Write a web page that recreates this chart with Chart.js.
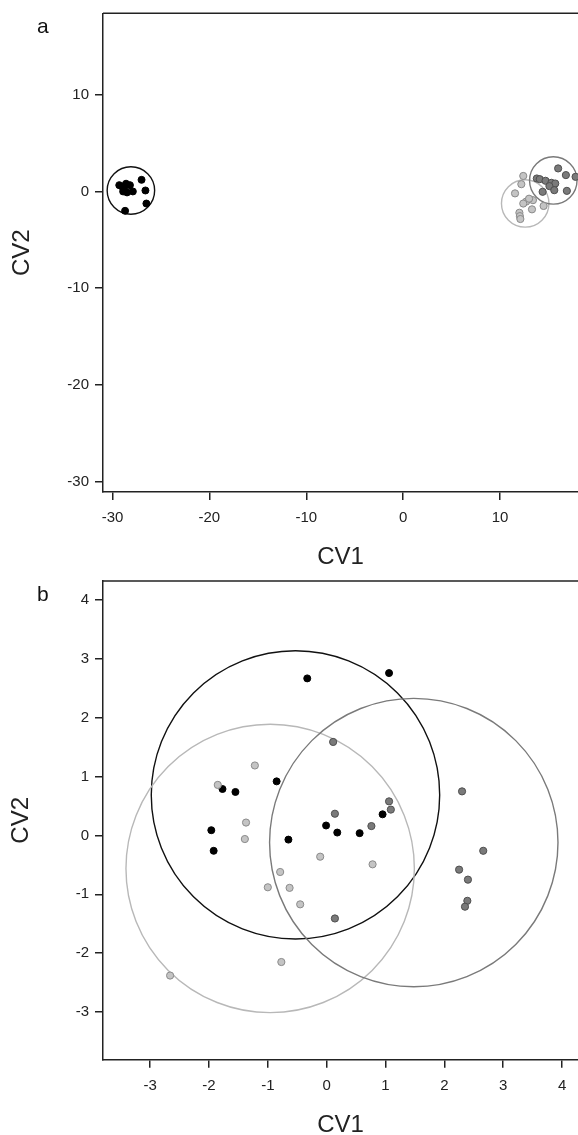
<!DOCTYPE html>
<html>
<head>
<meta charset="utf-8">
<script src="https://cdn.jsdelivr.net/npm/chart.js@4/dist/chart.umd.min.js"></script>
<style>
  html, body { margin: 0; padding: 0; background: #fff; }
  body { width: 578px; height: 1135px; position: relative; overflow: hidden; }
  canvas { position: absolute; left: 0; }
  #chartA { top: 0; }
  #chartB { top: 575px; }
</style>
</head>
<body>
<canvas id="chartA" width="578" height="575"></canvas>
<canvas id="chartB" width="578" height="560"></canvas>
<script>
// panel a: canonical variate scores [CV1, CV2] per group
const aBlack = [[-29.3, 0.65], [-28.9, 0.0], [-28.6, 0.8], [-28.2, 0.65], [-28.5, -0.1], [-27.9, 0.0],
                [-27.0, 1.2], [-26.6, 0.1], [-26.5, -1.25], [-28.7, -2.0], [-29.0, 0.5], [-28.8, 0.3]];
const aLight = [[12.4, 1.6], [12.2, 0.75], [11.55, -0.2], [13.4, -0.9], [12.7, -1.05], [12.4, -1.25],
                [14.5, -1.5], [13.3, -1.85], [12.0, -2.2], [12.05, -2.55], [12.1, -2.85], [13.0, -0.75]];
const aDark = [[13.8, 1.34], [14.1, 1.27], [14.7, 1.1], [15.3, 0.89], [15.7, 0.82], [15.1, 0.55],
               [15.6, 0.13], [14.4, -0.04], [16.0, 2.38], [16.8, 1.69], [17.8, 1.51], [16.9, 0.06]];
// group centres: black, light, dark
const aCentres = [[-28.1, 0.1], [12.6, -1.24], [15.5, 1.14]];
const aXTicks = [-30, -20, -10, 0, 10];
const aYTicks = [-30, -20, -10, 0, 10];

// panel b
const bBlack = [[-1.77, 0.79], [-1.55, 0.74], [-0.85, 0.92], [-1.96, 0.09], [-1.92, -0.26], [-0.65, -0.07],
                [-0.01, 0.17], [0.18, 0.05], [0.56, 0.04], [0.95, 0.36], [-0.33, 2.67], [1.06, 2.76]];
const bLight = [[-1.22, 1.19], [-1.85, 0.86], [-1.37, 0.22], [-1.39, -0.06], [-0.79, -0.62], [-1.0, -0.88],
                [-0.63, -0.89], [-0.45, -1.17], [-0.11, -0.36], [0.78, -0.49], [-0.77, -2.15], [-2.66, -2.38]];
const bDark = [[0.11, 1.59], [0.14, 0.37], [1.06, 0.58], [1.09, 0.44], [0.76, 0.16], [0.14, -1.41],
               [2.30, 0.75], [2.66, -0.26], [2.25, -0.58], [2.40, -0.75], [2.39, -1.11], [2.35, -1.21]];
const bCentres = [[-0.53, 0.69], [-0.96, -0.56], [1.48, -0.12]];
const bXTicks = [-3, -2, -1, 0, 1, 2, 3, 4];
const bYTicks = [-3, -2, -1, 0, 1, 2, 3, 4];

const ringRadius = 2.45;

const FONT = "'Liberation Sans', Arial, Helvetica, sans-serif";
const INK = "#222";
const ringColors = ["#111", "#b8b8b8", "#7a7a7a"];

// confidence circles + top frame line + panel letter
const rings = {
  id: "rings",
  beforeDatasetsDraw(chart, args, opts) {
    const { ctx, chartArea: a, scales: { x, y } } = chart;
    ctx.save();
    ctx.beginPath();
    ctx.rect(a.left, a.top, a.width, a.height);
    ctx.clip();
    opts.centres.forEach((c, i) => {
      const px = x.getPixelForValue(c[0]);
      const py = y.getPixelForValue(c[1]);
      const rx = Math.abs(x.getPixelForValue(c[0] + opts.radius) - px);
      const ry = Math.abs(y.getPixelForValue(c[1] + opts.radius) - py);
      ctx.beginPath();
      ctx.ellipse(px, py, rx, ry, 0, 0, Math.PI * 2);
      ctx.strokeStyle = ringColors[i];
      ctx.lineWidth = 1.4;
      ctx.stroke();
    });
    ctx.restore();
  },
  afterDraw(chart, args, opts) {
    const { ctx, chartArea: a } = chart;
    ctx.save();
    ctx.strokeStyle = INK;
    ctx.lineWidth = 1.5;
    ctx.beginPath();
    ctx.moveTo(a.left, a.top);
    ctx.lineTo(a.right, a.top);
    ctx.stroke();
    ctx.fillStyle = "#111";
    ctx.font = "21px " + FONT;
    ctx.textBaseline = "alphabetic";
    ctx.fillText(opts.letter, opts.lx, opts.ly);
    ctx.restore();
  }
};

const pts = arr => arr.map(p => ({ x: p[0], y: p[1] }));

const axis = (min, max, ticks, title, o) => ({
  type: "linear",
  min: min,
  max: max,
  afterBuildTicks: s => { s.ticks = ticks.map(v => ({ value: v })); },
  ticks: { color: INK, font: { size: 15, family: FONT }, padding: o.tickPad, maxRotation: 0, autoSkip: false },
  grid: { drawOnChartArea: false, drawTicks: true, tickLength: 8, color: INK, lineWidth: 1.5 },
  border: { display: true, color: INK, width: 1.5 },
  title: { display: true, text: title, color: INK, font: { size: 24, family: FONT }, padding: o.titlePad },
  afterFit: o.fit
});

const makeChart = (id, groups, centres, xr, yr, xt, yt, lay) => {
  const ctx = document.getElementById(id).getContext("2d");
  return new Chart(ctx, {
    type: "scatter",
    data: {
      datasets: [
        { data: pts(groups.light), pointRadius: 3.6, pointBackgroundColor: "#c4c4c4", pointBorderColor: "#8a8a8a", pointBorderWidth: 1 },
        { data: pts(groups.dark), pointRadius: 3.6, pointBackgroundColor: "#7a7a7a", pointBorderColor: "#4e4e4e", pointBorderWidth: 1 },
        { data: pts(groups.black), pointRadius: 3.5, pointBackgroundColor: "#000", pointBorderColor: "#000", pointBorderWidth: 1 }
      ]
    },
    plugins: [rings],
    options: {
      responsive: false,
      animation: false,
      events: [],
      layout: { autoPadding: false, padding: { top: lay.top, left: 0, right: 0, bottom: 0 } },
      scales: {
        x: axis(xr[0], xr[1], xt, "CV1", {
          tickPad: 9,
          titlePad: { top: 0, bottom: lay.xTitle },
          fit: s => { s.height = lay.xh; s.paddingLeft = 0; s.paddingRight = 0; }
        }),
        y: axis(yr[0], yr[1], yt, "CV2", {
          tickPad: 6,
          titlePad: { top: lay.yTitle, bottom: 0 },
          fit: s => { s.width = 103; s.paddingTop = 0; s.paddingBottom = 0; }
        })
      },
      plugins: {
        legend: { display: false },
        tooltip: { enabled: false },
        rings: { centres: centres, radius: ringRadius, letter: lay.letter, lx: 37, ly: lay.ly }
      }
    }
  });
};

const init = () => {
  makeChart("chartA", { black: aBlack, light: aLight, dark: aDark }, aCentres,
    [-30.98, 18.05], [-31.06, 18.41], aXTicks, aYTicks,
    { top: 13.3, xh: 83, xTitle: 3, yTitle: 8, letter: "a", ly: 33 });
  makeChart("chartB", { black: bBlack, light: bLight, dark: bDark }, bCentres,
    [-3.80, 4.27], [-3.81, 4.325], bXTicks, bYTicks,
    { top: 6, xh: 75.3, xTitle: -4.4, yTitle: 7.3, letter: "b", ly: 25.5 });
};

window.addEventListener("load", init);
</script>
</body>
</html>
